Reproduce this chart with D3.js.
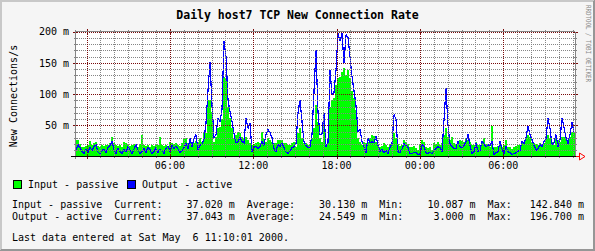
<!DOCTYPE html>
<html><head><meta charset="utf-8">
<script src="https://cdn.jsdelivr.net/npm/d3@7"></script>
<style>
html,body{margin:0;padding:0;background:#f5f5f5;}
svg{display:block;}
text{font-family:"DejaVu Sans Mono","Liberation Mono",monospace;white-space:pre;}
</style></head><body>
<svg id="c" width="595" height="251"></svg>
<script>
const title = "Daily host7 TCP New Connection Rate";
const yAxisTitle = "New Connections/s";
const credit = "RRDTOOL / TOBI OETIKER";
const startTime = new Date(2000, 4, 4, 23, 10, 1);
const endTime = new Date(2000, 4, 6, 11, 10, 1);
const unitSuffix = " m";
const yTicks = [50, 100, 150, 200];
const seriesNames = ["Input - passive", "Output - active"];
const seriesColors = ["#00ff00", "#0000ff"];
const currentVals = [37.020, 37.043];
const averageVals = [30.130, 24.549];
const minVals = [10.087, 3.000];
const maxVals = [142.840, 196.700];
const lastUpdate = "Last data entered at Sat May  6 11:10:01 2000.";

// values in milli-connections per second
const inputPassive = [
 27,26,20,16,15,17,18,25,18,22,
 23,17,15,18,17,19,18,21,31,22,
 18,17,19,16,24,22,19,17,18,20,
 17,16,20,34,18,17,19,16,18,17,
 19,18,31,19,17,18,16,24,22,20,
 21,19,17,22,28,29,21,24,20,22,
 25,21,30,24,37,38,91,91,72,24,
 32,45,47,60,128,125,80,62,45,30,
 34,39,37,32,30,32,26,21,19,20,
 21,24,22,39,28,24,29,27,24,22,
 21,27,26,27,22,21,19,18,22,24,
 16,38,45,29,22,21,19,20,30,45,
 83,56,29,24,58,20,30,80,91,94,
 115,126,128,136,142,131,139,125,105,93,
 75,30,24,19,24,22,24,29,35,33,
 24,20,16,17,21,19,15,20,22,38,
 30,20,17,19,27,24,20,16,15,17,
 14,10,19,27,24,16,14,15,11,21,
 20,24,19,21,34,45,32,26,31,22,
 20,21,27,25,24,29,26,24,19,18,
 24,19,18,22,29,20,18,16,49,16,
 15,17,22,16,19,27,16,15,12,15,
 17,18,19,22,24,30,35,32,24,22,
 20,19,22,20,21,33,35,30,24,19,
 29,27,24,32,32,30,27,32,40,37
];
const outputActive = [
 10,19,14,8,5,12,6,15,9,16,
 20,7,4,10,12,6,14,18,24,10,
 5,13,8,4,12,7,16,10,5,12,
 20,9,5,8,13,6,15,11,4,8,
 14,6,12,9,5,13,17,8,18,13,
 17,12,6,10,14,22,12,30,15,28,
 35,10,18,20,28,53,106,151,83,30,
 35,61,56,75,185,160,90,72,56,37,
 22,24,30,24,22,62,45,53,8,14,
 17,12,16,24,18,35,43,38,30,12,
 8,20,16,22,14,7,5,9,14,16,
 21,70,91,56,24,18,14,16,35,104,
 171,70,35,36,69,16,22,139,99,102,
 138,197,185,197,150,195,190,160,128,105,
 82,40,44,24,16,6,30,22,24,22,
 32,18,8,11,6,10,4,14,20,67,
 60,8,6,12,21,18,14,5,4,7,
 6,3,4,20,16,6,5,7,4,10,
 13,16,14,8,59,109,50,20,16,12,
 13,24,16,14,18,24,35,18,5,8,
 22,8,10,24,20,15,19,17,24,3,
 6,8,24,12,4,16,8,6,3,5,
 6,8,10,24,21,30,49,35,27,18,
 10,13,19,16,24,29,61,45,19,22,
 35,16,27,62,46,30,21,35,55,37
];

const W = 595, H = 251;
const X0 = 75, X1 = 575, Y0 = 156.5, Y1 = 31.5;
const svg = d3.select("#c");

// background and 3D frame
svg.append("rect").attr("width", W).attr("height", H).attr("fill", "#f5f5f5");
const shade = svg.append("g").attr("shape-rendering", "crispEdges").attr("stroke-width", 1);
shade.append("line").attr("x1",0).attr("y1",0.5).attr("x2",W).attr("y2",0.5).attr("stroke","#c8c8c8");
shade.append("line").attr("x1",1).attr("y1",1.5).attr("x2",W-1).attr("y2",1.5).attr("stroke","#c8c8c8");
shade.append("line").attr("x1",0.5).attr("y1",0).attr("x2",0.5).attr("y2",H).attr("stroke","#c8c8c8");
shade.append("line").attr("x1",1.5).attr("y1",1).attr("x2",1.5).attr("y2",H-1).attr("stroke","#c8c8c8");
shade.append("line").attr("x1",W-0.5).attr("y1",0).attr("x2",W-0.5).attr("y2",H).attr("stroke","#969696");
shade.append("line").attr("x1",W-1.5).attr("y1",1).attr("x2",W-1.5).attr("y2",H-1).attr("stroke","#969696");
shade.append("line").attr("x1",0).attr("y1",H-0.5).attr("x2",W).attr("y2",H-0.5).attr("stroke","#969696");
shade.append("line").attr("x1",1).attr("y1",H-1.5).attr("x2",W-1).attr("y2",H-1.5).attr("stroke","#969696");

// canvas
svg.append("rect").attr("x", X0).attr("y", Y1).attr("width", X1 - X0).attr("height", Y0 - Y1).attr("fill", "#ffffff");

const x = d3.scaleTime().domain([startTime, endTime]).range([X0, X1]);
const y = d3.scaleLinear().domain([0, 200]).range([Y0, Y1]);

const N = inputPassive.length;
const stepMs = (endTime - startTime) / N;
const pts = d3.range(N + 1).map(i => ({
  t: new Date(+startTime + i * stepMs),
  g: inputPassive[Math.min(i, N - 1)],
  b: outputActive[Math.min(i, N - 1)]
}));
// sample midpoints for the line (rrdtool connects consecutive columns)
const mids = d3.range(N).map(i => ({
  t: new Date(+startTime + (i + 0.5) * stepMs),
  b: outputActive[i]
}));

svg.append("path").datum(pts)
  .attr("d", d3.area().x(d => x(d.t)).y0(y(0)).y1(d => y(d.g)).curve(d3.curveStepAfter))
  .attr("fill", seriesColors[0]).attr("shape-rendering", "crispEdges");
svg.append("path").datum(mids)
  .attr("d", d3.line().x(d => x(d.t)).y(d => y(d.b)))
  .attr("fill", "none").attr("stroke", seriesColors[1]).attr("stroke-width", 1.2)
  .attr("stroke-linejoin", "miter").attr("stroke-miterlimit", 2)
  .attr("shape-rendering", "crispEdges");

// grid
const GRID = "#858585", MGRID = "#7a0a0a";
const grid = svg.append("g").attr("shape-rendering", "crispEdges").attr("stroke-width", 1).attr("fill", "none");
const minorY = d3.range(10, 201, 10).filter(v => v % 50 !== 0);
minorY.forEach(v => {
  const yy = Math.round(y(v)) + 0.5;
  grid.append("line").attr("x1", X0).attr("x2", X1).attr("y1", yy).attr("y2", yy)
    .attr("stroke", GRID).attr("stroke-dasharray", "1,1");
  grid.append("line").attr("x1", X0 - 1).attr("x2", X0 + 2).attr("y1", yy).attr("y2", yy).attr("stroke", GRID);
  grid.append("line").attr("x1", X1 - 1).attr("x2", X1 + 2).attr("y1", yy).attr("y2", yy).attr("stroke", GRID);
});
const hours = x.ticks(d3.timeHour.every(1));
hours.forEach(t => {
  const xx = Math.round(x(t)) + 0.5;
  const major = t.getHours() % 6 === 0;
  if (!major) {
    grid.append("line").attr("x1", xx).attr("x2", xx).attr("y1", Y1).attr("y2", Y0)
      .attr("stroke", GRID).attr("stroke-dasharray", "1,1");
    grid.append("line").attr("x1", xx).attr("x2", xx).attr("y1", Y0 - 1.5).attr("y2", Y0 + 1.5).attr("stroke", GRID);
    grid.append("line").attr("x1", xx).attr("x2", xx).attr("y1", Y1 - 1.5).attr("y2", Y1 + 1.5).attr("stroke", GRID);
  }
});
// axes frame
const ax = svg.append("g").attr("shape-rendering", "crispEdges").attr("stroke-width", 1);
ax.append("line").attr("x1", X1 + 0.5).attr("x2", X1 + 0.5).attr("y1", Y1).attr("y2", Y0).attr("stroke", GRID);
ax.append("line").attr("x1", X0).attr("x2", X1).attr("y1", Y1).attr("y2", Y1).attr("stroke", GRID);
ax.append("line").attr("x1", X0 + 0.5).attr("x2", X0 + 0.5).attr("y1", Y1 - 2).attr("y2", Y0 + 2).attr("stroke", GRID);

yTicks.forEach(v => {
  const yy = Math.round(y(v)) + 0.5;
  grid.append("line").attr("x1", X0 - 2).attr("x2", X1 + 3).attr("y1", yy).attr("y2", yy)
    .attr("stroke", MGRID).attr("stroke-dasharray", "1,1");
  grid.append("line").attr("x1", X0 - 2).attr("x2", X0 + 3).attr("y1", yy).attr("y2", yy).attr("stroke", MGRID);
  grid.append("line").attr("x1", X1 - 2).attr("x2", X1 + 3).attr("y1", yy).attr("y2", yy).attr("stroke", MGRID);
});
const majors = x.ticks(d3.timeHour.every(6));
majors.forEach(t => {
  const xx = Math.round(x(t)) + 0.5;
  grid.append("line").attr("x1", xx).attr("x2", xx).attr("y1", Y1 - 2).attr("y2", Y0 + 2)
    .attr("stroke", MGRID).attr("stroke-dasharray", "1,1");
  grid.append("line").attr("x1", xx).attr("x2", xx).attr("y1", Y0 - 2).attr("y2", Y0 + 2.5).attr("stroke", MGRID);
  grid.append("line").attr("x1", xx).attr("x2", xx).attr("y1", Y1 - 2.5).attr("y2", Y1 + 2).attr("stroke", MGRID);
});

// bottom axis and arrow
const bot = svg.append("g").attr("shape-rendering", "crispEdges");
bot.append("line").attr("x1", X0 - 4).attr("x2", X1 + 1).attr("y1", Y0).attr("y2", Y0).attr("stroke", "#000");
bot.append("line").attr("x1", X1 + 1).attr("x2", X1 + 5).attr("y1", Y0).attr("y2", Y0).attr("stroke", "#ff0000");
svg.append("path")
  .attr("d", `M${X1 + 4.5},${Y0 - 3.5}L${X1 + 10},${Y0}L${X1 + 4.5},${Y0 + 3.5}Z`)
  .attr("fill", "none").attr("stroke", "#ff0000").attr("stroke-width", 1);

// y tick labels
const fmtHM = d3.timeFormat("%H:%M");
svg.append("g").selectAll("text").data(yTicks).join("text")
  .attr("x", 69).attr("y", d => y(d) + 3.8).attr("text-anchor", "end")
  .attr("font-size", 10).attr("fill", "#000").text(d => d + unitSuffix);

// x tick labels
svg.append("g").selectAll("text").data(majors.filter(t => x(t) - 15 >= X0)).join("text")
  .attr("x", d => x(d)).attr("y", 168.5).attr("text-anchor", "middle")
  .attr("font-size", 10).attr("fill", "#000").text(d => fmtHM(d));

// title
svg.append("text").attr("x", W / 2).attr("y", 18.5).attr("text-anchor", "middle")
  .attr("font-size", 11.5).attr("font-weight", "bold").attr("fill", "#000").text(title);

// y axis title
svg.append("text").attr("transform", "translate(16.5,96) rotate(-90)")
  .attr("text-anchor", "middle").attr("font-size", 10).attr("fill", "#000").text(yAxisTitle);

// credit
svg.append("text").attr("transform", "translate(585.5,5) rotate(90)")
  .attr("font-size", 7).attr("fill", "#8a8a8a").attr("textLength", 77)
  .attr("lengthAdjust", "spacingAndGlyphs").text(credit);

// legend
const legX = [13.5, 127.5];
seriesNames.forEach((n, i) => {
  svg.append("rect").attr("x", legX[i]).attr("y", 180.5).attr("width", 8).attr("height", 8)
    .attr("fill", seriesColors[i]).attr("stroke", "#000").attr("stroke-width", 1)
    .attr("shape-rendering", "crispEdges");
  svg.append("text").attr("x", legX[i] + 14.5).attr("y", 187.5).attr("font-size", 10)
    .attr("fill", "#000").text(n);
});

const f3 = d3.format(".3f");
const pad10 = v => f3(v).padStart(10, " ");
const rowsY = [207.5, 220];
seriesNames.forEach((n, i) => {
  const s = n.padEnd(15, " ") + "  Current:" + pad10(currentVals[i]) + unitSuffix +
    "  Average:" + pad10(averageVals[i]) + unitSuffix +
    "  Min:" + pad10(minVals[i]) + unitSuffix +
    "  Max:" + pad10(maxVals[i]) + unitSuffix;
  svg.append("text").attr("x", 12).attr("y", rowsY[i]).attr("font-size", 10)
    .attr("fill", "#000").attr("xml:space", "preserve").text(s);
});
svg.append("text").attr("x", 12).attr("y", 240.5).attr("font-size", 10)
  .attr("fill", "#000").attr("xml:space", "preserve").text(lastUpdate);
</script>
</body></html>
